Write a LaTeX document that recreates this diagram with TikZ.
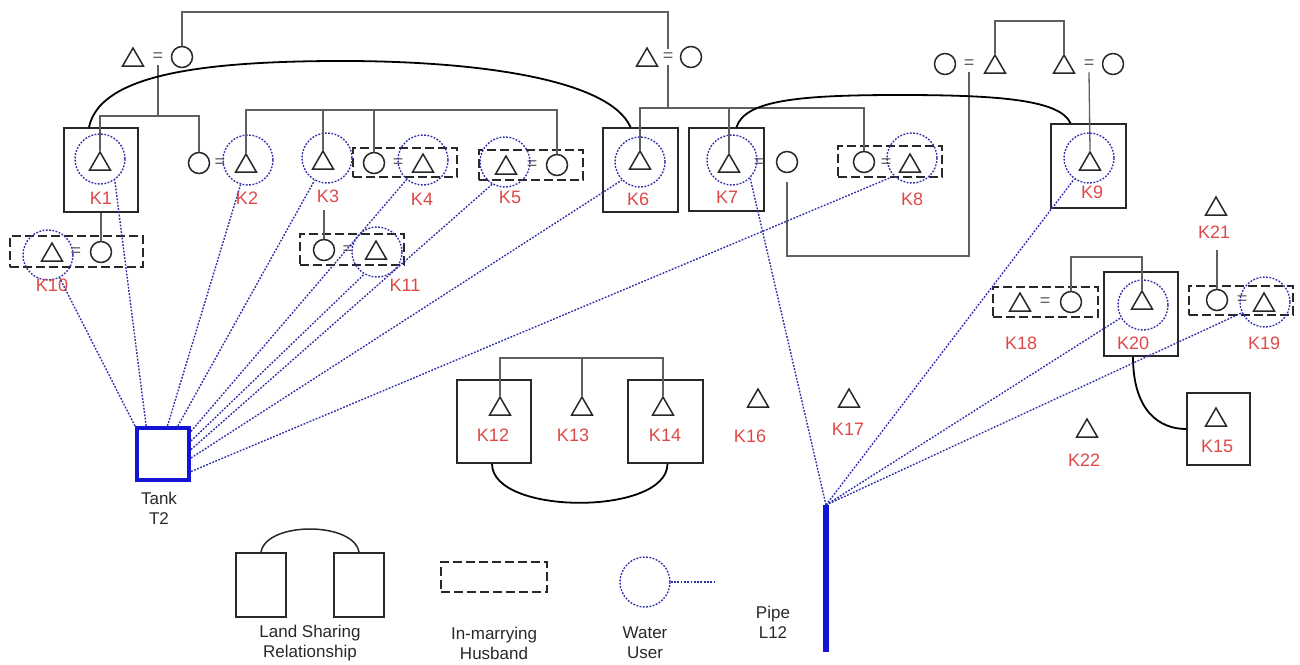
\documentclass[tikz,border=0pt]{standalone}
\usepackage{fontspec}
\setmainfont{Liberation Sans}
\usetikzlibrary{shapes.geometric}
\definecolor{kred}{RGB}{222,72,72}
\definecolor{wblue}{RGB}{48,48,168}
\definecolor{tblue}{RGB}{20,20,215}
\definecolor{ink}{RGB}{40,40,40}
\definecolor{sibgray}{RGB}{95,95,95}
\begin{document}
\begin{tikzpicture}[x=1pt,y=-1pt,
  tri/.style={regular polygon, regular polygon sides=3, draw=ink, line width=1.5pt,
    minimum size=24pt, inner sep=0pt, yshift=-3pt},
  fem/.style={circle, draw=ink, line width=1.5pt, minimum size=21pt, inner sep=0pt},
  user/.style={circle, draw=wblue, line width=1.4pt, dash pattern=on 1.8pt off 1.5pt,
    minimum size=50pt, inner sep=0pt},
  house/.style={draw=ink, line width=1.6pt, inner sep=0pt},
  inmar/.style={draw=ink, line width=1.6pt, dash pattern=on 9pt off 4pt, inner sep=0pt},
  eqs/.style={text=sibgray, font=\fontsize{18}{18}\selectfont, inner sep=0pt, outer sep=4pt},
  klab/.style={text=kred, font=\fontsize{18}{18}\selectfont, inner sep=0pt},
  kin/.style={draw=sibgray, line width=1.3pt},
  tie/.style={draw=black, line width=1.8pt},
  water/.style={draw=wblue, line width=1.4pt, dash pattern=on 1.8pt off 1.5pt},
  legtxt/.style={text=ink, font=\fontsize{17}{20}\selectfont, align=center, inner sep=0pt},
]
\useasboundingbox (0,0) rectangle (1300,664);

% ---------- houses (land units) ----------
\node[house, minimum width=74pt, minimum height=84pt] (h1) at (101,170) {};
\node[house, minimum width=75pt, minimum height=84pt] (h6) at (640.5,170) {};
\node[house, minimum width=75pt, minimum height=83pt] (h7) at (726.5,169.5) {};
\node[house, minimum width=75pt, minimum height=84pt] (h9) at (1088.5,166) {};
\node[house, minimum width=74pt, minimum height=83pt] (h12) at (494,421.5) {};
\node[house, minimum width=75pt, minimum height=83pt] (h14) at (665.5,421.5) {};
\node[house, minimum width=74pt, minimum height=84pt] (h20) at (1141,314) {};
\node[house, minimum width=63pt, minimum height=72pt] (h15) at (1218.5,429) {};

% ---------- in-marrying husband frames ----------
\node[inmar, minimum width=104pt, minimum height=29pt] (d4) at (405,162.5) {};
\node[inmar, minimum width=104pt, minimum height=30pt] (d5) at (531,165) {};
\node[inmar, minimum width=104pt, minimum height=31pt] (d8) at (890,161.5) {};
\node[inmar, minimum width=133pt, minimum height=31pt] (d10) at (76.5,251.5) {};
\node[inmar, minimum width=104pt, minimum height=31pt] (d11) at (352,249.5) {};
\node[inmar, minimum width=105pt, minimum height=30pt] (d18) at (1045.5,302) {};
\node[inmar, minimum width=104pt, minimum height=29pt] (d19) at (1241,300.5) {};

% ---------- senior couples ----------
\node[tri] (tA) at (133,57) {};
\node[eqs] (eqA) at (158,57) {=};
\node[fem] (cA) at (182,57) {};
\node[tri] (tB) at (647,57) {};
\node[eqs] (eqB) at (668,57) {=};
\node[fem] (cB) at (691,57) {};
\node[fem] (cC) at (945,64) {};
\node[eqs] (eqC) at (969,64) {=};
\node[tri] (tC) at (995,64) {};
\node[tri] (tD) at (1064,64) {};
\node[eqs] (eqD) at (1089,64) {=};
\node[fem] (cD) at (1113,64) {};

% ---------- households K1 - K9 ----------
\node[tri] (t1) at (100,161) {};
\node[fem] (f2) at (199,163) {};
\node[eqs] (eq2) at (220,163) {=};
\node[tri] (t2) at (246,163) {};
\node[tri] (t3) at (323,160) {};
\node[fem] (f4) at (374,163) {};
\node[eqs] (eq4) at (398,163) {=};
\node[tri] (t4) at (423,163) {};
\node[tri] (t5) at (506,165) {};
\node[eqs] (eq5) at (532,165) {=};
\node[fem] (f5) at (557,165) {};
\node[tri] (t6) at (640,160) {};
\node[tri] (t7) at (729,163) {};
\node[eqs] (eq7) at (759,163) {=};
\node[fem] (f7) at (787,162) {};
\node[fem] (f8) at (864,162) {};
\node[eqs] (eq8) at (886,163) {=};
\node[tri] (t8) at (910,163) {};
\node[tri] (t9) at (1090,161) {};

% ---------- households K10 - K22 ----------
\node[tri] (t10) at (52,252) {};
\node[eqs] (eq10) at (76,252) {=};
\node[fem] (f10) at (101,252) {};
\node[fem] (f11) at (324,250) {};
\node[eqs] (eq11) at (348,250) {=};
\node[tri] (t11) at (376,250) {};
\node[tri] (t12) at (500,406) {};
\node[tri] (t13) at (582,406) {};
\node[tri] (t14) at (663,406) {};
\node[tri] (t16) at (758,398) {};
\node[tri] (t17) at (849,398) {};
\node[tri] (t18) at (1020,302) {};
\node[eqs] (eq18) at (1045,302) {=};
\node[fem] (f18) at (1071,302) {};
\node[tri] (t20) at (1142,300) {};
\node[fem] (f19) at (1217,300) {};
\node[eqs] (eq19) at (1242,300) {=};
\node[tri] (t19) at (1264,302) {};
\node[tri] (t21) at (1216,206) {};
\node[tri] (t15) at (1216,417) {};
\node[tri] (t22) at (1087,428) {};

% ---------- water users ----------
\node[user] (u1) at (100,159) {};
\node[user] (u2) at (248,160) {};
\node[user] (u3) at (327,158) {};
\node[user] (u4) at (423,160) {};
\node[user] (u5) at (505,162) {};
\node[user] (u6) at (640,162) {};
\node[user] (u7) at (732,160) {};
\node[user] (u8) at (912,158) {};
\node[user] (u9) at (1089,158) {};
\node[user] (u10) at (48,255) {};
\node[user] (u11) at (377,252) {};
\node[user] (u20) at (1143,305) {};
\node[user] (u19) at (1265,302) {};

% ---------- household labels ----------
\node[klab] (l1) at (101,198) {K1};
\node[klab] (l2) at (247,198) {K2};
\node[klab] (l3) at (328,196) {K3};
\node[klab] (l4) at (422,199) {K4};
\node[klab] (l5) at (510,197) {K5};
\node[klab] (l6) at (638,199) {K6};
\node[klab] (l7) at (727,197) {K7};
\node[klab] (l8) at (912,199) {K8};
\node[klab] (l9) at (1092,192) {K9};
\node[klab] (l10) at (52,285) {K10};
\node[klab] (l11) at (405,285) {K11};
\node[klab] (l12) at (493,435) {K12};
\node[klab] (l13) at (573,435) {K13};
\node[klab] (l14) at (665,435) {K14};
\node[klab] (l16) at (750,436) {K16};
\node[klab] (l17) at (848,429) {K17};
\node[klab] (l18) at (1021,343) {K18};
\node[klab] (l20) at (1133,343) {K20};
\node[klab] (l19) at (1264,343) {K19};
\node[klab] (l15) at (1217,446) {K15};
\node[klab] (l22) at (1084,460) {K22};
\node[klab] (l21) at (1214,232) {K21};

% ---------- kinship lines ----------
\draw[kin] (cA.north) |- (eqB.north |- 0,12) -- (eqB.north);
\draw[kin] (eqA.south) -- (eqA.south |- 0,116);
\draw[kin] (t1.north) |- (f2.north |- 0,116) -- (f2.north);
\draw[kin] (t2.north) |- (f5.north |- 0,110) -- (f5.north);
\draw[kin] (t3.north) -- (t3.north |- 0,110);
\draw[kin] (f4.north) -- (f4.north |- 0,110);
\draw[kin] (t6.north) |- (f8.north |- 0,108) -- (f8.north);
\draw[kin] (eqB.south) -- (eqB.south |- 0,108);
\draw[kin] (t7.north) -- (t7.north |- 0,108);
\draw[kin] (tC.north) |- (tD.north |- 0,21) -- (tD.north);
\draw[kin, shorten >=9pt] (eqC.south) -- (eqC.south |- 0,256) -| (f7.south);
\draw[kin] (eqD.south) -- (t9.north);
\draw[kin] (h1.south) -- (f10.north);
\draw[kin] (f11.north |- 0,210) -- (f11.north);
\draw[kin] (t12.north) |- (t14.north |- 0,358) -- (t14.north);
\draw[kin] (t13.north) -- (t13.north |- 0,358);
\draw[kin] (f18.north) |- (t20.north |- 0,257) -- (t20.north);
\draw[kin] (f19.north |- 0,250) -- (f19.north);

% ---------- land sharing ties ----------
\draw[tie] ([xshift=-12pt]h1.north) .. controls (100,75) and (200,62) .. (330,61)
  .. controls (480,60) and (610,80) .. ([xshift=-10pt]h6.north);
\draw[tie] ([xshift=10pt]h7.north) .. controls (745,100) and (800,95) .. (900,95)
  .. controls (1000,95) and (1060,100) .. ([xshift=-18pt]h9.north);
\draw[tie] ([xshift=-2pt]h12.south) .. controls +(0,52) and +(0,52) .. ([xshift=2pt]h14.south);
\draw[tie] ([xshift=-8pt]h20.south) .. controls +(0,54) and +(-27,0) .. (h15.west);

% ---------- tank T2 and its users ----------
\node[draw=tblue, line width=4pt, minimum size=52pt, inner sep=0pt] (tank) at (163,454) {};
\node[legtxt] (tanklab) at (159,508) {Tank\\T2};
\draw[water] (tank.north west) -- (u10);
\draw[water] (tank.121) -- (u1.-55);
\draw[water] (tank.81) -- (u2);
\draw[water] (tank.62) -- (u3);
\draw[water] (tank.39) -- (u4.-130);
\draw[water] (tank.25) -- (u11.-120);
\draw[water] (tank.9) -- (u5.-120);
\draw[water] (tank.-8) -- (u6.-135);
\draw[water] (tank.-32) -- (u8.-135);

% ---------- pipe L12 and its users ----------
\coordinate (pipetop) at (826,505);
\coordinate (pipebot) at (826,652);
\draw[draw=tblue, line width=6pt] (pipetop) -- (pipebot);
\node[legtxt] (pipelab) at (773,622) {Pipe\\L12};
\draw[water] (pipetop) -- (u7.-45);
\draw[water] (pipetop) -- (u9.-125);
\draw[water] (pipetop) -- (u20.-150);
\draw[water] (pipetop) -- (u19.-155);

% ---------- legend ----------
\node[draw=ink, line width=1.5pt, minimum width=50pt, minimum height=64pt] (lgA) at (261,585) {};
\node[draw=ink, line width=1.5pt, minimum width=50pt, minimum height=64pt] (lgB) at (359,585) {};
\draw[draw=ink, line width=1.5pt] (lgA.north) .. controls +(5,-31) and +(-5,-31) .. (lgB.north);
\node[legtxt] (lgAt) at (310,643) {Land Sharing\\Relationship};
\node[inmar, minimum width=106pt, minimum height=30pt] (lgI) at (494,577) {};
\node[legtxt] (lgIt) at (494,643) {In-marrying\\Husband};
\node[user] (lgW) at (645,582) {};
\coordinate (lgWend) at (716,582);
\draw[water] (lgW.east) -- (lgWend);
\node[legtxt] (lgWt) at (645,643) {Water\\User};
\end{tikzpicture}
\end{document}
